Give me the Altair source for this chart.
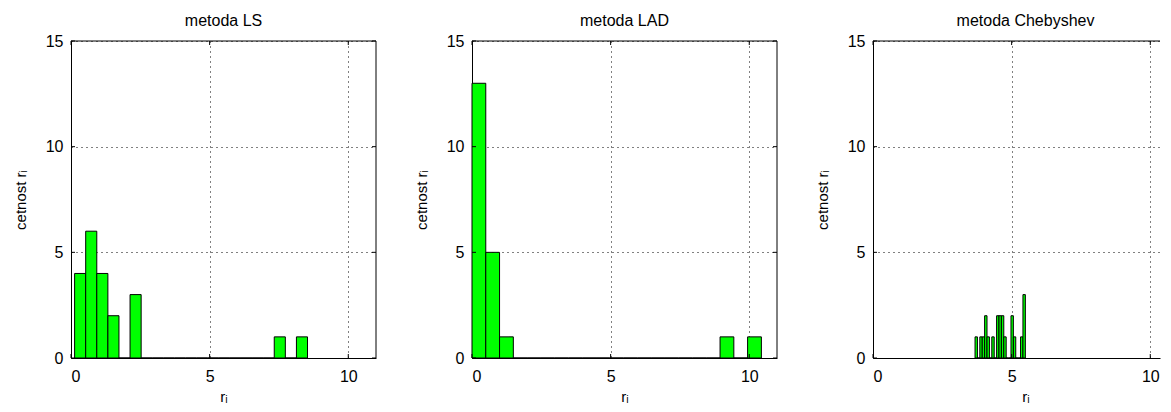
import altair as alt
import pandas as pd

FONT = "Liberation Sans"

# Histogram data (21 bins per panel)
ls_start = 0.13
ls_width = 0.40
ls_counts = [4, 6, 4, 2, 0, 3, 0, 0, 0, 0, 0, 0, 0, 0, 0, 0, 0, 0, 1, 0, 1]

lad_start = 0.0
lad_width = 0.497
lad_counts = [13, 5, 1, 0, 0, 0, 0, 0, 0, 0, 0, 0, 0, 0, 0, 0, 0, 0, 1, 0, 1]

ch_start = 3.68
ch_width = 0.0864
ch_counts = [1, 0, 1, 1, 2, 1, 0, 1, 0, 2, 2, 2, 1, 0, 0, 2, 1, 0, 0, 1, 3]

titles = ["metoda LS", "metoda LAD", "metoda Chebyshev"]
x_ticks = [0, 5, 10]
y_ticks = [0, 5, 10, 15]
x_max = 11

W, H = 305, 317
W3 = 287          # last panel is cut by the right edge of the picture
TICK = 4

AX = dict(grid=True, gridDash=[1, 4], gridColor="black", gridOpacity=1, ticks=False,
          labelFont=FONT, labelFontSize=16, labelColor="black",
          titleFont=FONT, titleFontSize=15, titleFontWeight="normal", titleColor="black",
          domainColor="black", domainWidth=1, format="d")


def panel(title, start, width, counts, pw, right_border):
    df = pd.DataFrame({
        "x0": [start + i * width for i in range(len(counts))],
        "x1": [start + (i + 1) * width for i in range(len(counts))],
        "n": counts,
    })
    xs = alt.Scale(domain=[0, x_max * pw / W], nice=False, zero=False)
    ys = alt.Scale(domain=[0, 15], nice=False)
    bars = alt.Chart(df).mark_rect(color="#00ff00", stroke="black", strokeWidth=1).encode(
        x=alt.X("x0:Q", scale=xs,
                axis=alt.Axis(values=x_ticks, title="rᵢ", labelPadding=10, titlePadding=5,
                              titleX=W / 2, **AX)),
        x2="x1:Q",
        y=alt.Y("n:Q", scale=ys,
                axis=alt.Axis(values=y_ticks, title="cetnost rᵢ", labelPadding=8, titlePadding=16,
                              minExtent=27, maxExtent=27, **AX)),
        y2=alt.datum(0),
    )
    xt = pd.DataFrame({"v": x_ticks})
    yt = pd.DataFrame({"v": y_ticks})
    one = pd.DataFrame({"v": [0]})
    layers = [bars]
    layers.append(alt.Chart(xt).mark_rule(color="black", strokeWidth=1).encode(
        x=alt.X("v:Q", scale=xs), y=alt.value(H), y2=alt.value(H - TICK)))
    layers.append(alt.Chart(xt).mark_rule(color="black", strokeWidth=1).encode(
        x=alt.X("v:Q", scale=xs), y=alt.value(0), y2=alt.value(TICK)))
    layers.append(alt.Chart(yt).mark_rule(color="black", strokeWidth=1).encode(
        y=alt.Y("v:Q", scale=ys), x=alt.value(0), x2=alt.value(TICK)))
    # top frame line
    layers.append(alt.Chart(one).mark_rule(color="black", strokeWidth=1).encode(
        x=alt.value(0), x2=alt.value(pw), y=alt.value(0)))
    if right_border:
        layers.append(alt.Chart(yt).mark_rule(color="black", strokeWidth=1).encode(
            y=alt.Y("v:Q", scale=ys), x=alt.value(pw), x2=alt.value(pw - TICK)))
        layers.append(alt.Chart(one).mark_rule(color="black", strokeWidth=1).encode(
            x=alt.value(pw), y=alt.value(0), y2=alt.value(H)))
    return alt.layer(*layers).properties(
        width=pw, height=H,
        title=alt.TitleParams(title, fontSize=16, fontWeight="normal", font=FONT,
                              color="black", offset=4, frame="group",
                              dx=(W - pw) / 2),
    )


chart = alt.hconcat(
    panel(titles[0], ls_start, ls_width, ls_counts, W, True),
    panel(titles[1], lad_start, lad_width, lad_counts, W, True),
    panel(titles[2], ch_start, ch_width, ch_counts, W3, False),
    spacing=37,
    background="white",
    padding={"left": 5, "top": 5, "right": 0, "bottom": 5},
).configure_view(stroke=None)

chart.save("out.html", embed_options={"renderer": "svg", "actions": False})
